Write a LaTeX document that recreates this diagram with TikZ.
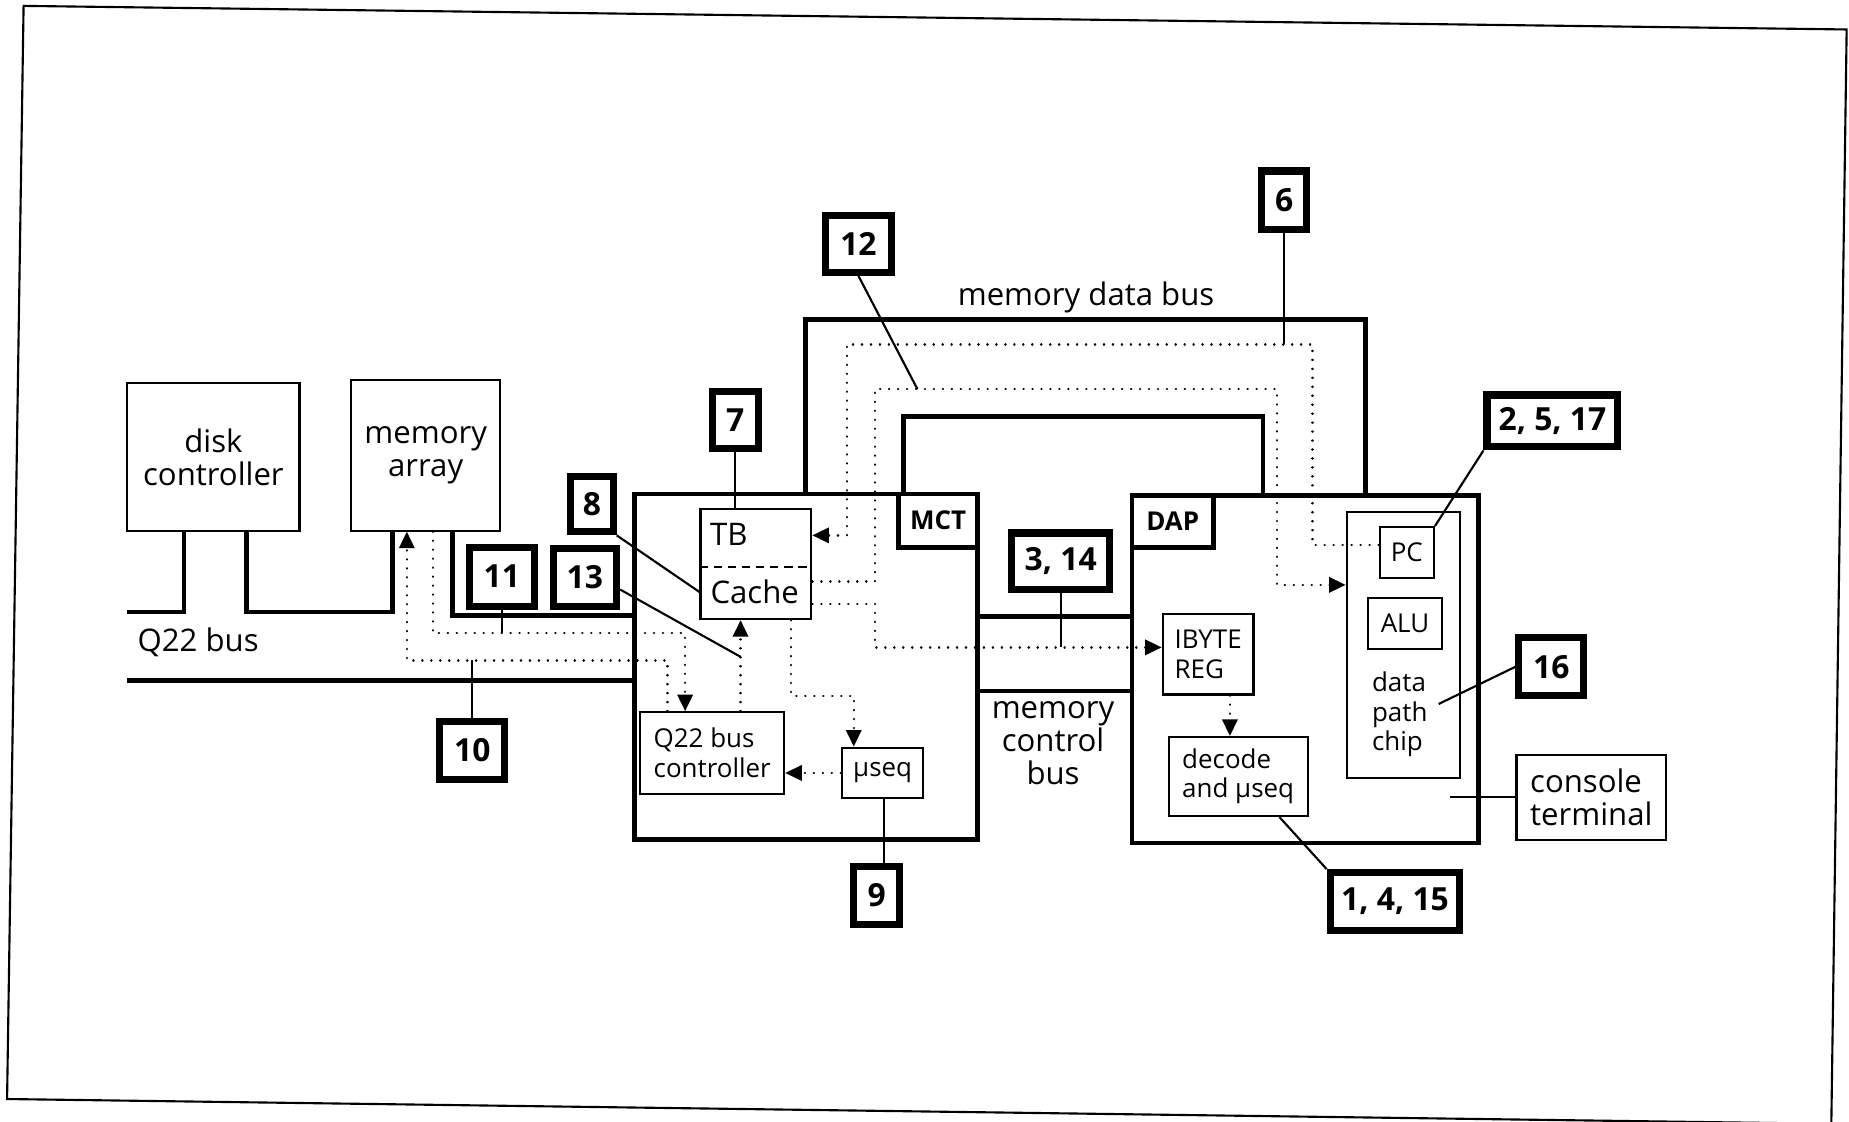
\documentclass[tikz,border=0pt]{standalone}
\usepackage{fontspec}
\setmainfont{Open Sans}
\usetikzlibrary{arrows.meta}

\begin{document}
\begin{tikzpicture}[x=0.5pt,y=-0.5pt,>={Triangle[length=7pt,width=6.5pt]},
  font=\fontsize{13.2}{14}\selectfont,
  box/.style={draw,line width=0.9pt,inner sep=2pt},
  unit/.style={draw,line width=2pt,inner sep=0pt},
  unittag/.style={draw,line width=2pt,inner sep=1pt,font=\fontsize{11}{12}\selectfont\bfseries},
  tag/.style={draw,line width=3pt,inner sep=1pt,font=\fontsize{13.5}{14}\selectfont\bfseries},
  smalltext/.style={font=\fontsize{11}{12.5}\selectfont},
  bus/.style={line width=2pt},
  sig/.style={line width=1pt,line cap=round,dash pattern=on 0.1pt off 3.7pt},
  lead/.style={line width=0.9pt}]
\useasboundingbox (0,0) rectangle (1568,951);
\draw[line width=0.9pt] (20,5) -- (1566,25) -- (1553,953) -- (6,932) -- cycle;
\node[box,minimum width=73pt,minimum height=62.5pt,align=center] (disk) at (181,387.5) {disk\\controller};
\node[box,minimum width=63pt,minimum height=64pt,align=center] (mem) at (361,386) {memory\\array};
\node (qlbl) at (168,545) {Q22 bus};
\node[unit,minimum width=145.5pt,minimum height=146.5pt] (mct) at (683.5,565.5) {};
\node[unittag,minimum width=33.5pt,minimum height=22.5pt] (mctlbl) at (795.5,441.5) {MCT};
\node[box,minimum width=47pt,minimum height=46.5pt] (tbc) at (641,478.5) {};
\node (tb) at (618,453) {TB};
\node (cache) at (640,502) {Cache};
\draw[line width=0.9pt,dash pattern=on 3.5pt off 2.5pt] (tbc.west |- 0,481) -- (tbc.east |- 0,481);
\node[box,smalltext,align=left,minimum width=61pt,minimum height=34.5pt] (q22c) at (604,638.5) {Q22 bus\\controller};
\node[box,smalltext,minimum width=34.5pt,minimum height=21.5pt] (museq) at (748.5,655.5) {µseq};
\node[unit,minimum width=147pt,minimum height=147.5pt] (dap) at (1107,567.5) {};
\node[unittag,minimum width=34.5pt,minimum height=22pt] (daplbl) at (994.5,442) {DAP};
\node[box,smalltext,align=left,minimum width=38.5pt,minimum height=34pt] (ibyte) at (1024.5,555) {IBYTE\\REG};
\node[box,smalltext,align=left,minimum width=59pt,minimum height=33.5pt] (decode) at (1050,658.5) {decode\\and µseq};
\node[box,minimum width=48pt,minimum height=113pt] (dpc) at (1190,547) {};
\node[box,smalltext,minimum width=23pt,minimum height=21.5pt] (pc) at (1193,468.5) {PC};
\node[box,smalltext,minimum width=31.5pt,minimum height=21.5pt] (alu) at (1191.5,528.5) {ALU};
\node[smalltext,align=left] (dpt) at (1187,606) {data\\path\\chip};
\node[box,align=left,minimum width=63.5pt,minimum height=36pt] (console) at (1349.5,676) {console\\terminal};
\node (mdb) at (921,252) {memory data bus};
\node[align=center] (mcb) at (893,630) {memory\\control\\bus};
\node[tag,minimum width=19pt,minimum height=25pt] (n6) at (1089,170) {6};
\node[tag,minimum width=28pt,minimum height=24pt] (n12) at (728,207) {12};
\node[tag,minimum width=19.5pt,minimum height=24pt] (n7) at (623.5,356) {7};
\node[tag,minimum width=18pt,minimum height=23.5pt] (n8) at (502,427.5) {8};
\node[tag,minimum width=27.5pt,minimum height=25pt] (n11) at (425.5,489) {11};
\node[tag,minimum width=27pt,minimum height=24.5pt] (n13) at (496,489.5) {13};
\node[tag,minimum width=27.5pt,minimum height=24.5pt] (n10) at (400.5,636.5) {10};
\node[tag,minimum width=19.5pt,minimum height=24.5pt] (n9) at (743.5,759.5) {9};
\node[tag,minimum width=41.5pt,minimum height=24pt] (n314) at (899.5,476) {3, 14};
\node[tag,minimum width=55.5pt,minimum height=22pt] (n2517) at (1316.5,357) {2, 5, 17};
\node[tag,minimum width=27.5pt,minimum height=24.5pt] (n16) at (1315.5,565.5) {16};
\node[tag,minimum width=55pt,minimum height=24.5pt] (n1415) at (1183,764.5) {1, 4, 15};
\coordinate (q22top) at (108,519);
\coordinate (q22bot) at (108,577);
\coordinate (p13) at (628,557);
\coordinate (p12) at (778,330);
\coordinate (p16) at (1220,597);
\coordinate (pcon) at (1230,676);
\draw[bus] (q22top) -| (156,0 |- disk.south);
\draw[bus] (209,0 |- disk.south) |- (333,519) -- (333,0 |- mem.south);
\draw[bus] (384,0 |- mem.south) |- (mct.west |- 0,522);
\draw[bus] (q22bot) -- (mct.west |- q22bot);
\draw[bus] (683,0 |- mct.north) |- (1158,271) -- (1158,0 |- dap.north);
\draw[bus] (766,0 |- mct.north) |- (1071,353) -- (1071,0 |- dap.north);
\draw[bus] (mct.east |- 0,523) -- (dap.west |- 0,523);
\draw[bus] (mct.east |- 0,586) -- (dap.west |- 0,586);
\draw[sig,->] (566,0 |- q22c.north) |- (345,560) -- (345,0 |- mem.south);
\draw[sig,->] (367,0 |- mem.south) |- (581,537) -- (581,0 |- q22c.north);
\draw[sig,->] (628,0 |- q22c.north) -- (628,0 |- tbc.south);
\draw[sig,->] (671,0 |- tbc.south) |- (724,590) -- (724,0 |- museq.north);
\draw[sig,->] (museq.west) -- (museq.west -| q22c.east);
\draw[sig,->] (tbc.east |- 0,512) -| (742,549) -- (ibyte.west |- 0,549);
\draw[sig,->] (tbc.east |- 0,493) -| (742,330) -| (1083,496) -- (dpc.west |- 0,496);
\draw[sig,->] (pc.west |- 0,462) -| (1113,292) -| (718,454) -- (tbc.east |- 0,454);
\draw[sig,->] (1043,0 |- ibyte.south) -- (1043,0 |- decode.north);
\draw[lead] (n7.south) -- (n7.south |- tbc.north);
\draw[lead] (n8.south east) -- (tbc.west |- cache);
\draw[lead] (n13.east |- 0,500) -- (p13);
\draw[lead] (n11.south) -- (n11.south |- 0,537);
\draw[lead] (n10.north) -- (n10.north |- 0,560);
\draw[lead] (n12.south) -- (p12);
\draw[lead] (n6.south) -- (n6.south |- 0,292);
\draw[lead] (n314.south) -- (n314.south |- 0,549);
\draw[lead] (750,0 |- museq.south) -- (750,0 |- n9.north);
\draw[lead] (n2517.south west) -- (pc.north east);
\draw[lead] (n16.west) -- (p16);
\draw[lead] (console.west) -- (pcon);
\draw[lead] (n1415.north west) -- (1085,0 |- decode.south);
\end{tikzpicture}
\end{document}
